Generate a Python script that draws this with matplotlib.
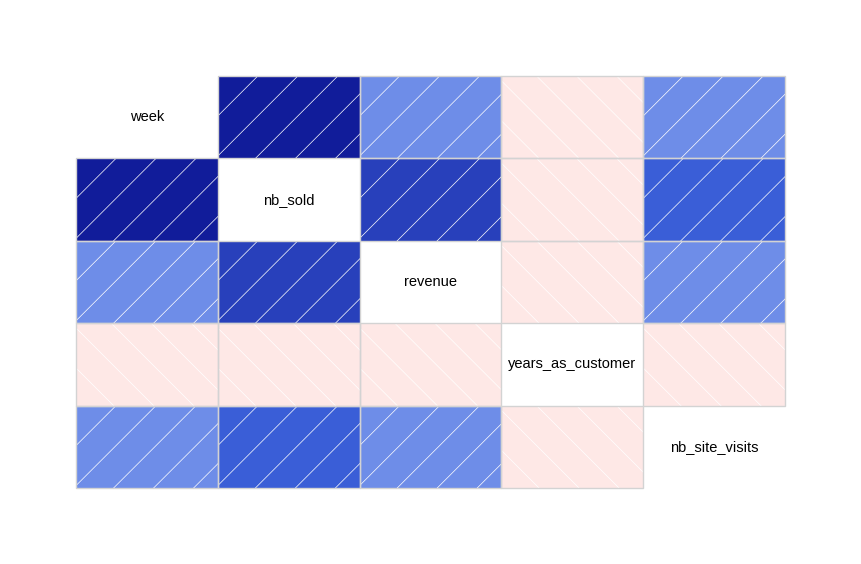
import numpy as np
import matplotlib.pyplot as plt
from matplotlib.colors import LinearSegmentedColormap
from matplotlib.patches import Rectangle

variables = ['week', 'nb_sold', 'revenue', 'years_as_customer', 'nb_site_visits']
corr = np.array([
    [1.00, 0.86, 0.38, -0.09, 0.38],
    [0.86, 1.00, 0.69, -0.09, 0.55],
    [0.38, 0.69, 1.00, -0.09, 0.38],
    [-0.09, -0.09, -0.09, 1.00, -0.09],
    [0.38, 0.55, 0.38, -0.09, 1.00],
])

plt.rcParams['font.family'] = ['Liberation Sans', 'DejaVu Sans']

cmap = LinearSegmentedColormap.from_list(
    'corrgram', ['red', 'salmon', 'white', 'royalblue', 'navy'])

W_px, H_px = 861, 564
fig = plt.figure(figsize=(W_px / 100, H_px / 100), dpi=100)
left, right, top, bottom = 76, 785, 76, 488
ax = fig.add_axes([left / W_px, 1 - bottom / H_px,
                   (right - left) / W_px, (bottom - top) / H_px])
n = len(variables)
ax.set_xlim(0, n)
ax.set_ylim(n, 0)
ax.axis('off')

cw = (right - left) / n   # cell width in px
ch = (bottom - top) / n   # cell height in px
spacing = 40.0

for i in range(n):
    for j in range(n):
        if i == j:
            ax.text(j + 0.5, i + 0.5, variables[i], ha='center', va='center',
                    fontsize=10.5, color='black')
            continue
        r = corr[i, j]
        rect = Rectangle((j, i), 1, 1, facecolor=cmap((r + 1) / 2),
                         edgecolor='none', zorder=1)
        ax.add_patch(rect)
        # hatch lines at 45 degrees in pixel space, clipped to the cell
        for k in np.arange(-ch - spacing, cw + ch + spacing, spacing):
            u = np.array([-ch - 10, cw + ch + 10])
            if r >= 0:
                v = u - k
            else:
                v = -u + k
            xs = j + u / cw
            ys = i + 1 - v / ch
            ln, = ax.plot(xs, ys, color='white', lw=0.5, zorder=2)
            ln.set_clip_path(rect)
        ax.add_patch(Rectangle((j, i), 1, 1, facecolor='none',
                               edgecolor='#d3d3d3', lw=1.0, zorder=3,
                               clip_on=False))

fig.savefig('out.png', dpi=100)
